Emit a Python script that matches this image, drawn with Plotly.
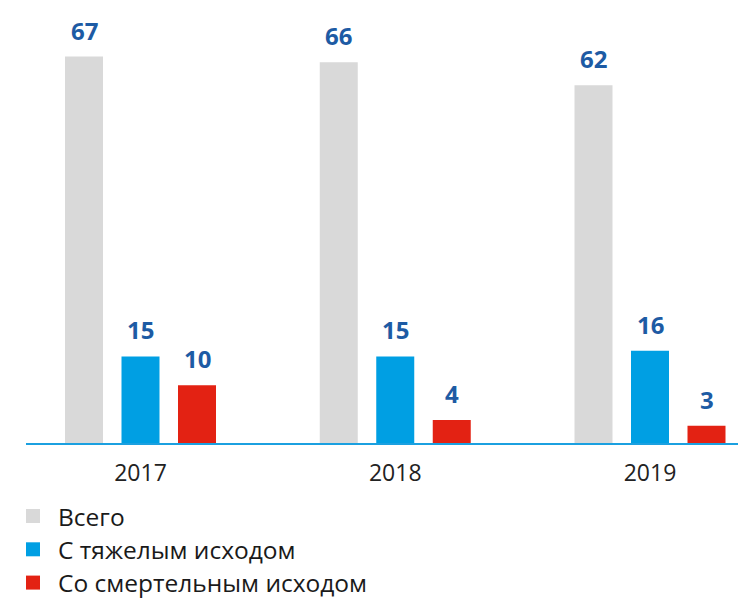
import plotly.graph_objects as go

# Injury statistics by year
years = ["2017", "2018", "2019"]
total = [67, 66, 62]
severe = [15, 15, 16]
fatal = [10, 4, 3]

series_names = ["Всего", "С тяжелым исходом", "Со смертельным исходом"]
series_values = [total, severe, fatal]
series_colors = ["#d9d9d9", "#009fe3", "#e32213"]

W, H = 738, 598
margin_l, margin_r, margin_t, margin_b = 26, 0, 0, 155
plot_w = W - margin_l - margin_r
plot_h = H - margin_t - margin_b

# category spacing in pixels and bar-slot offset within a group
cat_px = 254.75
slot_px = 56.5
first_center_px = 140.5 - margin_l
x0 = -first_center_px / cat_px
x1 = x0 + plot_w / cat_px
y_max = 76.8


def px_to_paper_x(px):
    return (px - margin_l) / plot_w


def px_to_paper_y(py):
    return (H - margin_b - py) / plot_h


fig = go.Figure()
for i, (name, vals, col) in enumerate(zip(series_names, series_values, series_colors)):
    fig.add_trace(go.Bar(
        x=list(range(len(years))), y=vals, name=name,
        marker=dict(color=col, line=dict(width=0)),
        hoverinfo="skip", showlegend=False,
    ))
    for j, v in enumerate(vals):
        fig.add_annotation(
            x=j, y=v, xref="x", yref="y",
            text=f"<b>{v}</b>", showarrow=False,
            xshift=(i - 1) * slot_px, yshift=8,
            yanchor="bottom", xanchor="center",
            font=dict(family="Open Sans", size=24, color="#1d5ba4"),
        )

    # legend entry: colour square plus label
    row_y = 516 + 33.3 * i
    fig.add_shape(
        type="rect", xref="paper", yref="paper",
        x0=px_to_paper_x(26), x1=px_to_paper_x(40),
        y0=px_to_paper_y(row_y + 7), y1=px_to_paper_y(row_y - 7),
        fillcolor=col, line=dict(width=0),
    )
    fig.add_annotation(
        x=px_to_paper_x(56), y=px_to_paper_y(row_y), xref="paper", yref="paper",
        text=name, showarrow=False, xanchor="left", yanchor="middle",
        font=dict(family="Open Sans", size=24.5, color="#1a1a1a"),
    )

fig.update_layout(
    width=W, height=H,
    margin=dict(l=margin_l, r=margin_r, t=margin_t, b=margin_b, autoexpand=False),
    paper_bgcolor="white", plot_bgcolor="white",
    barmode="group", bargap=1 - 3 * slot_px / cat_px,
    bargroupgap=1 - 38 / slot_px,
    font=dict(family="Open Sans", color="#222222"),
    showlegend=False,
)
fig.update_xaxes(
    range=[x0, x1], tickmode="array",
    tickvals=list(range(len(years))), ticktext=years,
    showline=True, linecolor="#1ba0e0", linewidth=2,
    showgrid=False, zeroline=False, ticks="",
    ticklabelstandoff=8,
    tickfont=dict(family="Open Sans", size=23, color="#222222"),
)
fig.update_yaxes(range=[0, y_max], visible=False, showgrid=False, zeroline=False)

fig.write_html("out.html")
